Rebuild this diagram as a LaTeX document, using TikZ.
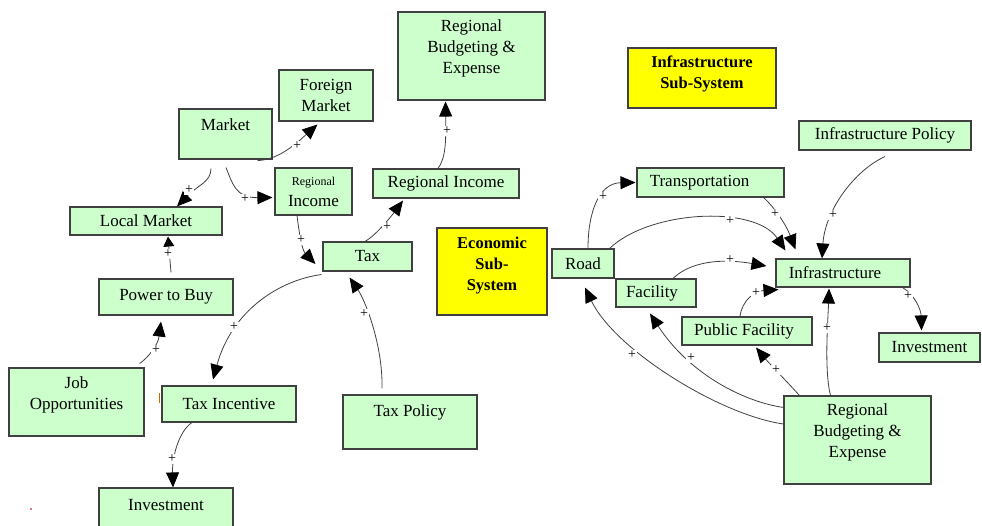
\documentclass[tikz,border=0pt]{standalone}
\usepackage{fontspec}
\setmainfont{Liberation Serif}
\usetikzlibrary{arrows.meta}
\definecolor{boxgreen}{HTML}{CCFFCC}
\definecolor{boxyellow}{HTML}{FFFF00}
\definecolor{edgegray}{HTML}{404040}
\begin{document}
\begin{tikzpicture}[x=1pt,y=-1pt,
  box/.style={draw=edgegray, line width=1.1pt, fill=boxgreen, inner sep=0pt, font=\fontsize{17}{21}\selectfont, align=center},
  sub/.style={box, fill=boxyellow},
  boxlabel/.style={align=center, inner sep=0pt, font=\fontsize{17}{21}\selectfont},
  sublabel/.style={align=center, inner sep=0pt, font=\fontsize{16.5}{21}\selectfont\bfseries},
  link/.style={draw=edgegray, line width=0.8pt, -{Triangle[length=15pt,width=13pt,color=black,fill=black]}},
  shortlink/.style={draw=edgegray, line width=0.8pt, -{Triangle[length=10pt,width=11pt,color=black,fill=black]}},
  plus/.style={font=\fontsize{14}{14}\selectfont, inner sep=0.6pt, fill=white, text=black}
]
\useasboundingbox (0,0) rectangle (982,526);

% ---------- boxes ----------
\node[box, minimum width=147pt, minimum height=88pt, label={[boxlabel,yshift=8pt]center:Regional\\Budgeting \&\\Expense}] (rbt) at (471.5,56) {};
\node[box, minimum width=94pt, minimum height=51pt] (fm) at (326,95.5) {Foreign\\Market};
\node[box, minimum width=93pt, minimum height=50pt, label={[boxlabel,yshift=9pt]center:Market}] (mk) at (225.5,134) {};
\node[box, minimum width=77pt, minimum height=47pt] (ris) at (313.5,191.5) {{\fontsize{12}{14}\selectfont Regional}\\Income};
\node[box, minimum width=152pt, minimum height=28pt] (lm) at (146,221) {Local Market};
\node[box, minimum width=89pt, minimum height=29pt] (tax) at (367.5,256.5) {Tax};
\node[box, minimum width=146pt, minimum height=29pt] (riw) at (446,183.5) {Regional Income};
\node[sub, minimum width=110pt, minimum height=87pt, label={[sublabel,yshift=6pt]center:Economic\\Sub-\\System}] (eco) at (492,271.5) {};
\node[box, minimum width=134pt, minimum height=54pt, label={[boxlabel,yshift=10pt]center:Tax Policy}] (tp) at (410,422) {};
\node[box, minimum width=134pt, minimum height=36pt] (ptb) at (166,297) {Power to Buy};
\node[box, minimum width=135pt, minimum height=68pt, label={[boxlabel,yshift=7pt]center:Job\\Opportunities}] (job) at (76.5,402) {};
\node[box, minimum width=134pt, minimum height=36pt] (ti) at (229,404) {Tax Incentive};
\node[box, minimum width=134pt, minimum height=60pt, label={[boxlabel,yshift=13pt]center:Investment}] (inv1) at (166,518) {};

\node[sub, minimum width=148pt, minimum height=60pt, label={[sublabel,yshift=4pt]center:Infrastructure\\Sub-System}] (iss) at (702,78) {};
\node[box, minimum width=172pt, minimum height=29pt] (ip) at (885,135.5) {Infrastructure Policy};
\node[box, minimum width=147pt, minimum height=29pt, label={[boxlabel,xshift=-11pt]center:Transportation}] (tr) at (710.5,182.5) {};
\node[box, minimum width=62pt, minimum height=29pt] (road) at (583,263.5) {Road};
\node[box, minimum width=80pt, minimum height=28pt, label={[boxlabel,xshift=-4pt]center:Facility}] (fac) at (656,293) {};
\node[box, minimum width=134pt, minimum height=28pt, label={[boxlabel,xshift=-8pt]center:Infrastructure}] (inf) at (843,273) {};
\node[box, minimum width=130pt, minimum height=28pt, label={[boxlabel,xshift=-3pt]center:Public Facility}] (pf) at (747,331) {};
\node[box, minimum width=101pt, minimum height=29pt] (inv2) at (929.5,347.5) {Investment};
\node[box, minimum width=147pt, minimum height=88pt, label={[boxlabel,yshift=8pt]center:Regional\\Budgeting \&\\Expense}] (rbb) at (857.5,440) {};

% ---------- connectors (left) ----------
\draw[link] ([xshift=-15pt,yshift=-1pt]mk.south east) .. controls (280,160) and (300,140) .. ([xshift=39pt,yshift=-3pt]fm.south west);
\draw[link] ([xshift=-14.5pt,yshift=-9pt]mk.south) .. controls (211,182) and (198,185) .. ([xshift=31pt]lm.north);
\draw[link] ([xshift=0.5pt,yshift=-8pt]mk.south) .. controls (232,182) and (235,198) .. ([xshift=-2pt,yshift=-6pt]ris.west);
\draw[link] ([xshift=-16.5pt]ris.south) .. controls (299,232) and (302,250) .. ([xshift=-7pt,yshift=-7.5pt]tax.west);
\draw[link] ([xshift=-2.5pt]tax.north) .. controls (375,236) and (390,218) .. ([xshift=-43pt,yshift=-2pt]riw.south);
\draw[link] ([xshift=-8pt]riw.north) .. controls (446,158) and (446,140) .. ([xshift=-26pt,yshift=-1pt]rbt.south);
\draw[link] ([xshift=-28pt,yshift=6pt]tp.north) .. controls (383,345) and (365,300) .. ([xshift=-18pt,yshift=-6pt]tax.south);
\draw[link] ([xshift=-1pt,yshift=-3pt]tax.south west) .. controls (280,280) and (232,310) .. ([xshift=-16pt,yshift=6pt]ti.north);
\draw[link] ([xshift=-37pt]ti.south) .. controls (180,430) and (172,455) .. ([xshift=7pt]inv1.north);
\draw[shortlink] ([xshift=5pt,yshift=6pt]ptb.north) -- ([xshift=22pt,yshift=-1pt]lm.south);
\draw[link] ([xshift=-5pt,yshift=4pt]job.north east) .. controls (148,358) and (158,345) .. ([xshift=-5pt,yshift=-6pt]ptb.south);

% ---------- connectors (right) ----------
\draw[link] ([xshift=5pt]road.north) .. controls (588,210) and (600,183) .. ([xshift=-1pt]tr.west);
\draw[link] ([xshift=-5pt]road.north east) .. controls (650,210) and (755,205) .. ([xshift=10pt,yshift=8pt]inf.north west);
\draw[link] ([xshift=-21pt]tr.south east) .. controls (772,205) and (785,222) .. ([xshift=20pt,yshift=9pt]inf.north west);
\draw[link] ([xshift=17pt]fac.north) .. controls (690,262) and (720,258) .. ([xshift=-9pt,yshift=7pt]inf.west);
\draw[link] ([xshift=-7pt]pf.north) .. controls (742,300) and (755,291) .. ([xshift=3pt,yshift=-2pt]inf.south west);
\draw[link] ([yshift=-6pt]ip.south) .. controls (855,170) and (825,210) .. ([xshift=-21pt]inf.north);
\draw[link] ([xshift=-8pt]inf.south east) .. controls (915,295) and (921,310) .. ([xshift=-8pt,yshift=2pt]inv2.north);
\draw[link] ([xshift=-27pt]rbb.north) .. controls (824,370) and (828,320) .. ([xshift=-14pt,yshift=-1pt]inf.south);
\draw[link] ([xshift=16pt]rbb.north west) .. controls (790,385) and (768,362) .. ([xshift=9pt,yshift=-2pt]pf.south);
\draw[link] ([yshift=-12pt]rbb.north west) .. controls (745,402) and (690,375) .. ([xshift=-6pt,yshift=-6pt]fac.south);
\draw[link] ([yshift=16pt]rbb.west) .. controls (720,415) and (615,350) .. ([xshift=2pt,yshift=-9pt]road.south);

% ---------- polarity signs ----------
\node[plus] (p1) at (297,146) {+};
\node[plus] (p2) at (189,190) {+};
\node[plus] (p3) at (245,199) {+};
\node[plus] (p4) at (301,240) {+};
\node[plus] (p5) at (387,227) {+};
\node[plus] (p6) at (447,131) {+};
\node[plus] (p7) at (364,314) {+};
\node[plus] (p8) at (234,327) {+};
\node[plus] (p9) at (172,459) {+};
\node[plus] (p10) at (168,254) {+};
\node[plus] (p11) at (156,350) {+};
\node[plus] (p12) at (603,197) {+};
\node[plus] (p13) at (730,221) {+};
\node[plus] (p14) at (775,214) {+};
\node[plus] (p15) at (730,260) {+};
\node[plus] (p16) at (756,293) {+};
\node[plus] (p17) at (833,215) {+};
\node[plus] (p18) at (908,296) {+};
\node[plus] (p19) at (827,328) {+};
\node[plus] (p20) at (776,370) {+};
\node[plus] (p21) at (691,358) {+};
\node[plus] (p22) at (632,355) {+};

% ---------- small marks ----------
\fill[red!70!black] (31,509) circle (0.8pt);
\draw[orange!80!black, line width=0.7pt] (159.5,393) -- (159.5,403);
\end{tikzpicture}
\end{document}
